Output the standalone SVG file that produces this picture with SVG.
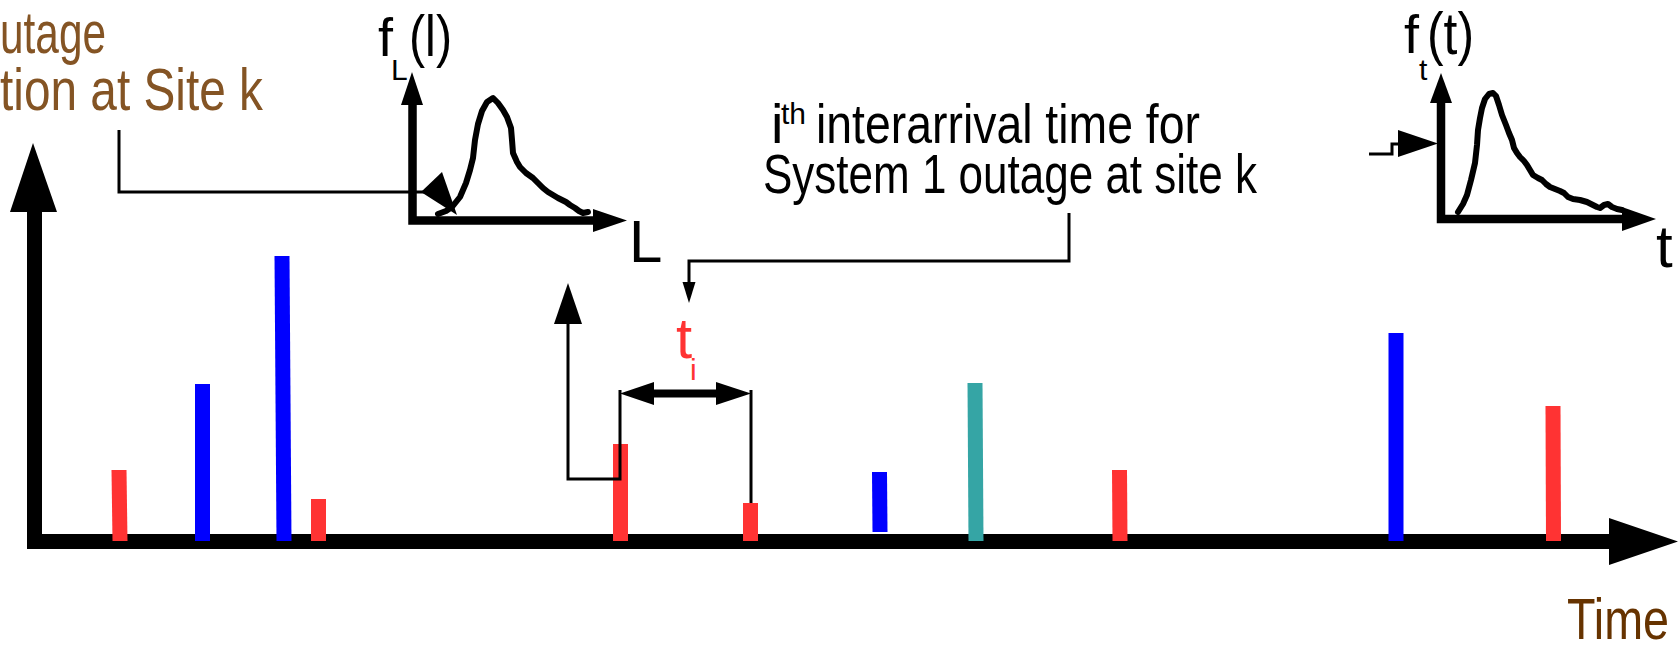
<svg xmlns="http://www.w3.org/2000/svg" width="1680" height="648" viewBox="0 0 1680 648">
<style>
.t{font-family:"Liberation Sans Narrow","Liberation Sans",Arial,sans-serif;fill:#000}
.brown{fill:#845424}
.time{fill:#663300}
.red{fill:#FF3333}
.bar{stroke-width:15;stroke-linecap:butt}
.ax{fill:none;stroke:#000;stroke-linejoin:miter}
.con{fill:none;stroke:#000;stroke-width:3;stroke-linejoin:miter}
.curve{fill:none;stroke:#000;stroke-width:6;stroke-linejoin:round;stroke-linecap:round}
</style>
<rect width="1680" height="648" fill="#fff"/>

<g id="main-axes">
<path class="ax" d="M34.5,208 V541.5 H1612" stroke-width="15"/>
<polygon points="33,143 10,212 57,212"/>
<polygon points="1609,518 1678,541.5 1609,565"/>
</g>

<g id="bars">
<line class="bar" x1="119" y1="470" x2="120" y2="541" stroke="#FF3333"/>
<line class="bar" x1="202.5" y1="384" x2="202.5" y2="541" stroke="#0000FF"/>
<line class="bar" x1="282" y1="256" x2="284" y2="541" stroke="#0000FF"/>
<line class="bar" x1="318.5" y1="499" x2="318.5" y2="541" stroke="#FF3333"/>
<line class="bar" x1="620.5" y1="444" x2="620.5" y2="541" stroke="#FF3333"/>
<line class="bar" x1="750.5" y1="503" x2="750.5" y2="541" stroke="#FF3333"/>
<line class="bar" x1="879.5" y1="472" x2="880" y2="532" stroke="#0000FF"/>
<line class="bar" x1="975" y1="383" x2="976" y2="541" stroke="#35A5A5"/>
<line class="bar" x1="1119.5" y1="470" x2="1120" y2="541" stroke="#FF3333"/>
<line class="bar" x1="1396" y1="333" x2="1396" y2="541" stroke="#0000FF"/>
<line class="bar" x1="1553" y1="406" x2="1553.5" y2="541" stroke="#FF3333"/>
</g>

<g id="fL-graph">
<path class="ax" d="M412.5,100 V220.5 H596" stroke-width="8.5"/>
<polygon points="412,72 401,105 423,105"/>
<polygon points="593,209 627,220.5 593,232"/>
<polyline class="curve" points="438,214 446,211 452,207 460,197 466,183 470,170 473,158 475,140 478,124 482,111 487,102 493,98 498,103 503,110 507,117 511,128 512,140 513,153 517,162 520,167 526,173 533,178 538,183 543,188 548,192 553,195 558,198 562,200 566,202 570,205 575,208 579,211 583,213 588,212"/>
<text class="t" x="378" y="56" font-size="54">f</text>
<text class="t" x="391" y="80" font-size="30">L</text>
<text class="t" x="409" y="56" font-size="58" textLength="43" lengthAdjust="spacingAndGlyphs">(l)</text>
<text class="t" x="629" y="262" font-size="60">L</text>
</g>

<g id="ft-graph">
<path class="ax" d="M1441,100 V219 H1624" stroke-width="8.5"/>
<polygon points="1441,73 1430,103 1452,103"/>
<polygon points="1622,207 1656,219 1622,231"/>
<polyline class="curve" points="1458,212 1463,204 1467,195 1471,180 1475,163 1477,145 1478,130 1480,118 1482,108 1485,99 1489,94 1493,93 1496,96 1499,105 1502,115 1506,125 1509,133 1512,140 1514,148 1517,153 1520,157 1524,161 1527,165 1530,170 1533,175 1538,178 1542,180 1546,184 1550,187 1555,189 1560,191 1564,193 1568,197 1573,199 1580,200 1587,202 1593,205 1597,207 1600,208 1604,205 1608,204 1612,207 1617,209 1622,210"/>
<text class="t" x="1404" y="53" font-size="54">f</text>
<text class="t" x="1419" y="80" font-size="30">t</text>
<text class="t" x="1427" y="54" font-size="60" textLength="47" lengthAdjust="spacingAndGlyphs">(t)</text>
<text class="t" x="1656" y="267" font-size="60">t</text>
</g>

<g id="label-duration">
<text class="t brown" x="0" y="53" font-size="59" textLength="106" lengthAdjust="spacingAndGlyphs">utage</text>
<text class="t brown" x="0" y="110" font-size="59" textLength="263" lengthAdjust="spacingAndGlyphs">tion at Site k</text>
</g>

<g id="label-interarrival">
<text class="t" x="771" y="143" font-size="56">i<tspan x="781" y="124" font-size="30">th</tspan><tspan x="816" y="143" textLength="384" lengthAdjust="spacingAndGlyphs">interarrival time for</tspan></text>
<text class="t" x="763" y="193" font-size="56" textLength="494" lengthAdjust="spacingAndGlyphs">System 1 outage at site k</text>
</g>

<g id="label-ti">
<text class="t red" x="676" y="358" font-size="58">t<tspan x="690" y="380" font-size="30">i</tspan></text>
</g>

<g id="time-label">
<text class="t time" x="1567" y="639" font-size="58" textLength="102" lengthAdjust="spacingAndGlyphs">Time</text>
</g>

<g id="connectors">
<path class="con" d="M119,130 V192 H424"/>
<polygon points="421,192 442,172 457,215"/>
<path class="con" d="M1069,213 V261 H689 V284"/>
<polygon points="682.5,282 695.5,282 689,303"/>
<path class="con" d="M568,322 V479 H620 V390"/>
<polygon points="568,283 554,324 582,324"/>
<path class="con" d="M751,390 V503"/>
<path d="M650,393.5 H720" stroke="#000" stroke-width="8" fill="none"/>
<polygon points="620,393.5 654,382 654,405"/>
<polygon points="751,393.5 716,382 716,405"/>
<path class="con" d="M1369,154 H1392 V144 H1400"/>
<polygon points="1398,130 1438,143.5 1398,157"/>
</g>
</svg>
